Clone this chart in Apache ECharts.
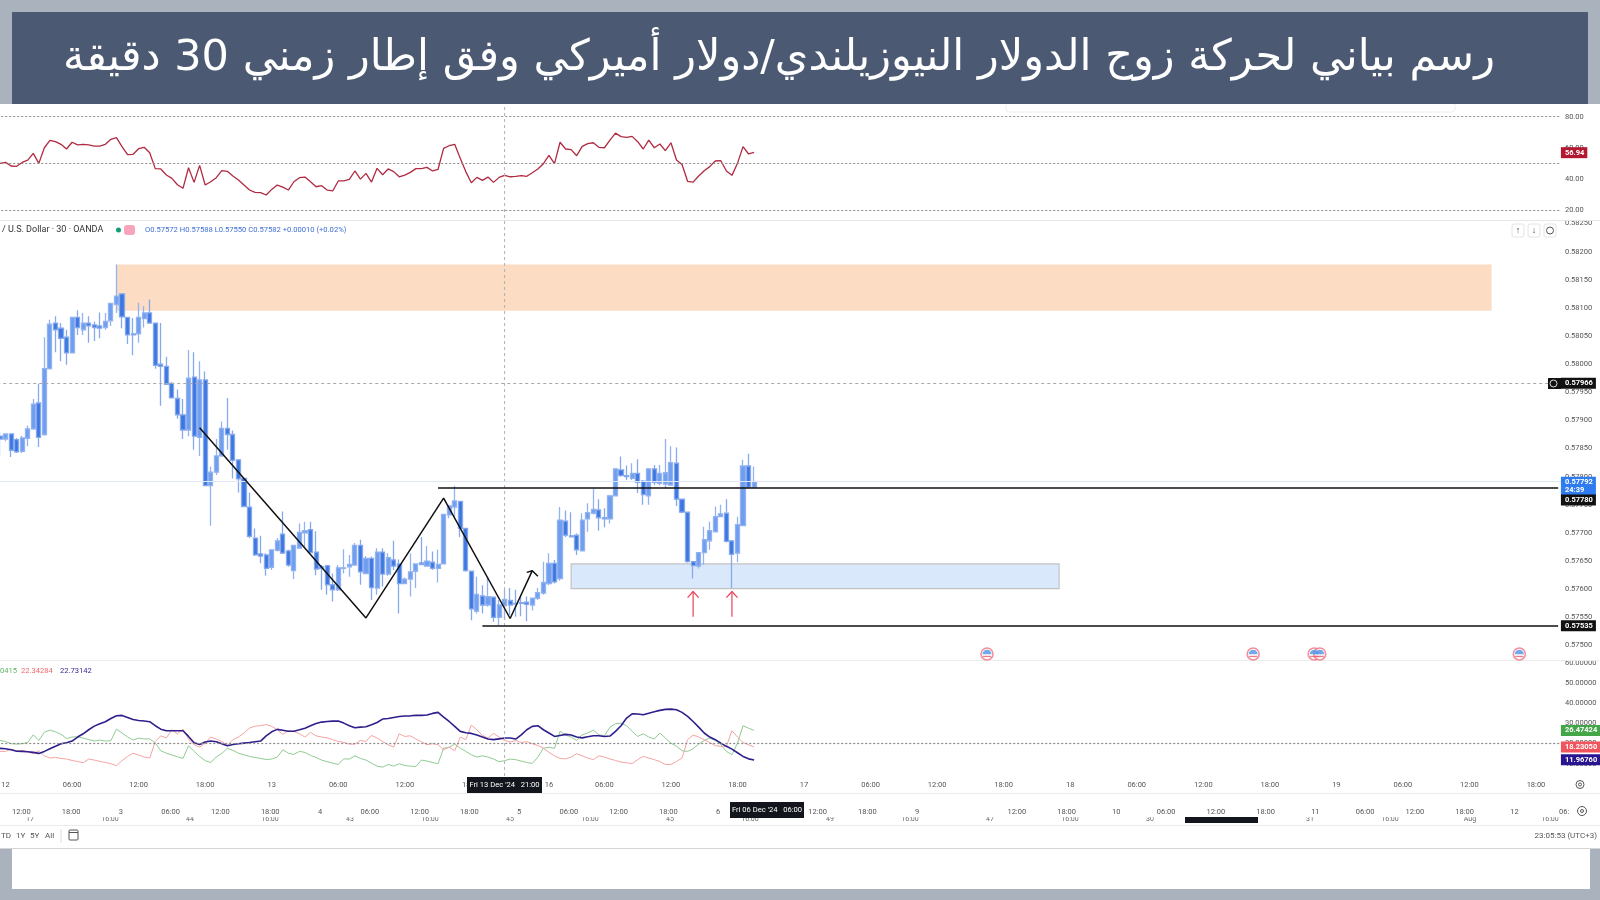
<!DOCTYPE html>
<html>
<head>
<meta charset="utf-8">
<style>
html,body{margin:0;padding:0;background:#fff;}
#chart{width:1600px;height:900px;}
</style>
<script src="https://cdn.jsdelivr.net/npm/echarts@6/dist/echarts.min.js"></script>
</head>
<body>
<div id="chart"></div>
<script>
// candles, in bar order
const openPrice = [0.57872,0.57867,0.57876,0.57866,0.57845,0.57868,0.57885,0.57931,0.57875,0.57992,0.58073,0.58064,0.58048,0.58020,0.58083,0.58061,0.58073,0.58070,0.58068,0.58065,0.58077,0.58106,0.58125,0.58083,0.58054,0.58054,0.58081,0.58091,0.58073,0.58000,0.57996,0.57966,0.57939,0.57910,0.57883,0.57977,0.57870,0.57972,0.57784,0.57808,0.57837,0.57886,0.57875,0.57830,0.57797,0.57746,0.57691,0.57663,0.57661,0.57639,0.57669,0.57698,0.57668,0.57633,0.57673,0.57700,0.57706,0.57666,0.57640,0.57642,0.57608,0.57599,0.57637,0.57640,0.57643,0.57678,0.57628,0.57655,0.57602,0.57666,0.57627,0.57652,0.57645,0.57610,0.57618,0.57632,0.57647,0.57641,0.57648,0.57637,0.57645,0.57732,0.57746,0.57756,0.57708,0.57632,0.57561,0.57588,0.57572,0.57586,0.57550,0.57571,0.57580,0.57575,0.57576,0.57577,0.57572,0.57584,0.57593,0.57610,0.57646,0.57619,0.57721,0.57695,0.57696,0.57668,0.57725,0.57735,0.57741,0.57727,0.57725,0.57766,0.57812,0.57802,0.57797,0.57806,0.57792,0.57766,0.57814,0.57788,0.57787,0.57785,0.57824,0.57760,0.57737,0.57649,0.57641,0.57665,0.57686,0.57702,0.57729,0.57735,0.57686,0.57664,0.57713,0.57819,0.57781];
const closePrice = [0.57867,0.57876,0.57847,0.57844,0.57869,0.57885,0.57929,0.57870,0.57992,0.58071,0.58061,0.58046,0.58020,0.58083,0.58065,0.58073,0.58068,0.58065,0.58064,0.58076,0.58108,0.58121,0.58084,0.58052,0.58052,0.58083,0.58091,0.58073,0.57998,0.57996,0.57964,0.57940,0.57910,0.57883,0.57975,0.57872,0.57972,0.57784,0.57808,0.57837,0.57886,0.57875,0.57829,0.57796,0.57747,0.57694,0.57661,0.57659,0.57637,0.57670,0.57686,0.57664,0.57643,0.57678,0.57701,0.57704,0.57665,0.57636,0.57637,0.57608,0.57599,0.57638,0.57638,0.57644,0.57678,0.57631,0.57655,0.57603,0.57666,0.57627,0.57656,0.57641,0.57610,0.57618,0.57631,0.57645,0.57644,0.57650,0.57637,0.57644,0.57733,0.57748,0.57757,0.57708,0.57633,0.57565,0.57591,0.57572,0.57587,0.57550,0.57572,0.57582,0.57572,0.57574,0.57575,0.57573,0.57584,0.57594,0.57612,0.57646,0.57613,0.57723,0.57696,0.57693,0.57670,0.57723,0.57736,0.57742,0.57727,0.57725,0.57766,0.57814,0.57802,0.57800,0.57806,0.57790,0.57768,0.57814,0.57790,0.57806,0.57807,0.57825,0.57760,0.57737,0.57649,0.57642,0.57665,0.57688,0.57704,0.57729,0.57734,0.57685,0.57662,0.57715,0.57819,0.57781,0.57791];
const lowPrice = [0.57836,0.57863,0.57835,0.57842,0.57842,0.57854,0.57883,0.57853,0.57873,0.57990,0.58021,0.58005,0.57999,0.58019,0.58052,0.58052,0.58038,0.58041,0.58046,0.58061,0.58068,0.58091,0.58064,0.58036,0.58016,0.58038,0.58065,0.58072,0.57992,0.57926,0.57963,0.57939,0.57903,0.57867,0.57872,0.57848,0.57837,0.57784,0.57713,0.57803,0.57835,0.57848,0.57797,0.57772,0.57746,0.57691,0.57659,0.57646,0.57624,0.57634,0.57667,0.57664,0.57640,0.57618,0.57672,0.57673,0.57664,0.57625,0.57599,0.57590,0.57578,0.57597,0.57628,0.57622,0.57642,0.57608,0.57627,0.57581,0.57590,0.57605,0.57624,0.57634,0.57557,0.57609,0.57587,0.57602,0.57643,0.57640,0.57634,0.57612,0.57645,0.57726,0.57729,0.57693,0.57631,0.57545,0.57557,0.57557,0.57569,0.57542,0.57536,0.57546,0.57554,0.57551,0.57552,0.57543,0.57562,0.57581,0.57590,0.57607,0.57610,0.57615,0.57693,0.57692,0.57661,0.57667,0.57702,0.57733,0.57704,0.57710,0.57717,0.57766,0.57800,0.57794,0.57794,0.57771,0.57750,0.57750,0.57785,0.57785,0.57779,0.57784,0.57748,0.57735,0.57647,0.57619,0.57637,0.57643,0.57670,0.57701,0.57728,0.57683,0.57602,0.57648,0.57713,0.57779,0.57779];
const highPrice = [0.57880,0.57877,0.57877,0.57869,0.57873,0.57891,0.57938,0.57965,0.58048,0.58079,0.58085,0.58073,0.58061,0.58083,0.58096,0.58091,0.58085,0.58076,0.58092,0.58091,0.58109,0.58177,0.58125,0.58083,0.58082,0.58109,0.58103,0.58115,0.58073,0.58073,0.58013,0.57968,0.57955,0.57938,0.58025,0.58021,0.58005,0.57987,0.57818,0.57867,0.57898,0.57940,0.57882,0.57830,0.57797,0.57772,0.57708,0.57695,0.57664,0.57671,0.57691,0.57738,0.57670,0.57679,0.57717,0.57720,0.57720,0.57703,0.57643,0.57643,0.57628,0.57643,0.57671,0.57661,0.57682,0.57688,0.57659,0.57658,0.57673,0.57673,0.57664,0.57686,0.57653,0.57621,0.57664,0.57646,0.57693,0.57677,0.57667,0.57670,0.57733,0.57750,0.57784,0.57756,0.57708,0.57632,0.57622,0.57607,0.57622,0.57587,0.57581,0.57599,0.57602,0.57599,0.57587,0.57587,0.57584,0.57602,0.57649,0.57664,0.57652,0.57746,0.57740,0.57737,0.57699,0.57735,0.57753,0.57778,0.57760,0.57744,0.57768,0.57814,0.57836,0.57820,0.57824,0.57831,0.57794,0.57815,0.57821,0.57821,0.57867,0.57854,0.57852,0.57760,0.57737,0.57649,0.57665,0.57711,0.57720,0.57747,0.57750,0.57760,0.57686,0.57729,0.57830,0.57841,0.57818];

// indicators
const rsiValues = [50.1,50.7,48.4,48.2,50.7,52.2,56.5,50.1,60.1,64.8,64.0,62.3,59.3,63.6,61.9,62.3,61.9,61.2,61.2,62.3,65.5,66.6,60.8,55.7,55.9,59.5,60.4,56.9,46.7,46.5,42.6,40.5,36.4,34.1,47.3,37.9,48.8,36.2,38.3,40.9,45.4,45.0,42.0,39.4,36.2,33.0,31.5,31.3,29.8,33.4,36.2,34.9,33.0,38.3,40.9,41.3,38.3,35.1,35.8,33.0,32.4,38.8,38.8,39.8,45.2,40.0,43.7,38.1,46.9,42.8,46.5,44.8,41.5,42.6,44.3,46.7,46.7,47.5,45.2,46.3,59.7,61.4,62.3,53.3,44.8,37.7,41.1,39.2,41.3,37.9,41.1,42.4,41.5,41.8,42.2,41.8,44.1,46.5,49.9,55.2,49.9,63.6,59.3,58.9,55.0,61.0,62.7,63.3,60.4,60.1,65.0,69.5,67.2,66.8,67.4,64.0,59.3,65.0,60.1,62.5,58.2,63.3,52.2,49.4,38.6,38.1,42.0,45.4,48.0,51.6,51.8,45.2,42.4,50.1,60.8,56.1,57.1];
const adxValues = [17.6,17.4,16.9,16.2,16.1,15.9,15.6,15.1,16.1,17.4,18.6,19.9,20.4,21.2,23.2,24.8,26.8,28.6,29.8,30.8,32.4,33.7,33.9,32.9,31.9,31.4,31.1,30.8,28.8,27.1,26.3,26.3,26.3,26.3,23.5,20.4,19.5,20.7,21.2,20.9,19.9,18.9,19.5,19.9,20.2,20.5,20.9,21.2,23.8,25.8,27.0,26.6,26.1,26.1,26.8,27.6,28.8,29.9,30.6,30.9,31.1,31.1,30.1,28.8,27.8,28.1,28.3,29.3,30.4,32.1,32.4,32.9,33.4,33.6,33.7,33.9,33.9,34.1,34.9,35.4,33.1,30.9,28.5,26.0,25.3,25.0,24.2,23.2,22.2,21.9,22.3,22.7,22.7,22.2,24.3,26.8,28.5,28.8,26.8,25.2,23.5,24.0,24.5,24.2,23.2,22.8,23.3,23.8,23.8,23.5,23.7,26.0,28.8,32.6,34.7,34.6,34.2,35.0,35.7,36.4,36.9,37.0,36.7,35.4,33.4,30.9,28.1,25.2,23.2,21.9,20.2,18.6,17.2,15.4,13.6,12.4,11.8];
const diPlusValues = [21.5,21.0,19.9,19.7,19.9,20.5,24.3,21.5,25.6,26.6,25.8,24.5,22.5,23.2,23.3,22.7,21.9,21.2,21.7,21.2,21.4,27.1,25.2,23.3,21.7,22.7,22.2,22.3,20.2,16.4,15.2,14.3,13.4,12.6,18.9,16.1,13.6,11.5,10.6,13.3,15.1,17.6,16.6,15.2,14.4,13.6,13.1,12.6,12.1,12.3,13.3,16.9,15.2,14.6,16.1,15.6,14.1,13.1,11.8,11.0,10.3,9.6,12.4,12.3,13.9,12.6,11.8,10.3,8.8,8.3,9.6,8.8,10.0,9.1,8.8,8.6,11.8,11.3,10.6,10.0,17.7,18.1,19.7,17.7,16.1,14.4,13.3,13.9,13.3,12.3,11.0,11.5,12.3,12.0,11.3,10.6,10.1,13.3,17.7,18.1,17.6,26.1,24.2,23.2,21.5,24.3,25.2,26.6,24.3,23.8,28.1,29.8,30.1,28.8,26.0,23.5,24.8,23.2,22.2,25.2,22.7,20.2,18.6,16.4,16.1,17.4,19.7,21.5,22.7,21.5,19.4,16.1,14.4,20.2,28.8,27.6,26.47];
const diMinusValues = [16.1,16.1,17.2,16.4,16.6,15.9,14.9,16.4,13.9,12.8,13.1,12.6,12.3,11.6,11.1,10.5,12.3,11.8,11.1,10.6,10.0,9.0,11.5,13.6,15.2,14.3,13.3,12.8,21.0,23.8,22.7,26.8,24.8,27.1,22.2,19.4,18.2,20.2,23.2,22.2,21.0,19.0,21.9,23.2,25.2,27.6,28.6,28.8,29.4,28.5,26.8,24.5,26.3,26.0,24.8,23.2,25.5,23.8,23.2,22.8,21.9,21.0,20.5,19.7,19.7,21.5,21.0,24.0,22.7,21.0,19.4,18.2,24.8,23.5,23.8,22.2,20.9,19.4,19.9,19.4,16.9,18.2,16.4,23.2,21.9,29.1,26.8,24.0,22.7,25.0,23.2,21.5,20.7,21.5,20.5,20.9,19.9,19.0,17.7,15.6,13.9,12.6,12.4,13.3,14.9,13.9,12.8,12.0,13.9,13.3,12.3,11.6,10.8,10.5,10.0,12.0,13.6,12.8,12.0,11.1,9.6,9.6,11.1,12.8,21.9,24.2,23.2,21.9,20.5,18.9,18.6,18.6,26.3,23.2,20.5,19.4,18.23];

// time scale: bar slot -> label, first row
const timeSlots = [1,13,25,37,49,61,73,85,99,109,121,133,145,157,169,181,193,205,217,229,241,253,265,277];
const timeLabels = ['12','06:00','12:00','18:00','13','06:00','12:00','18:00','16','06:00','12:00','18:00','17','06:00','12:00','18:00','18','06:00','12:00','18:00','19','06:00','12:00','18:00'];
// second time row, crossfaded from the next chart
const fadedLabels = ['12:00','18:00','3','06:00','12:00','18:00','4','06:00','12:00','18:00','5','06:00','12:00','18:00','6','','12:00','18:00','9','','12:00','18:00','10','06:00','12:00','18:00','11','06:00','12:00','18:00','12','06:'];
// third row, only its lower half shows
const ghostLabels = ['17','16:00','44','16:00','43','16:00','45','16:00','45','16:00','49','16:00','47','16:00','30','','31','16:00','Aug','16:00'];

const rsiTicks = [20, 40, 60, 80];
const rsiGuides = [80, 50, 20];
const lastRsi = 56.94;
const adxGuide = 20;
const lastPlus = 26.47424, lastMinus = 18.2305, lastAdx = 11.9676;
const lastPrice = 0.57792, pivotPrice = 0.57966, upperLine = 0.57780, lowerLine = 0.57535;

// drawings on the price panel, [slot, price]
const zigzag = [[36,0.57887],[66,0.57549],[80,0.57762],[92,0.57548],[96,0.57633]];
const zigzagHead = [[95,0.57630],[96,0.57633],[97,0.57623]];
const redArrowA = [[125,0.57551],[125,0.57596]];
const redHeadA = [[124,0.57585],[125,0.57596],[126,0.57585]];
const redArrowB = [[132,0.57551],[132,0.57596]];
const redHeadB = [[131,0.57585],[132,0.57596],[133,0.57585]];
const newsSlots = [178,226,237,238,274];
const newsPrice = 0.57485;

const slotCount = 282;
const slotWidth = 5.545;
const gridLeft = -2.77;
const gridWidth = slotCount * slotWidth;
const cursorSlot = 91;

const FONT = 'Roboto';
const slots = [];
for (let i = 0; i < slotCount; i++) slots.push(String(i));
const timeRow = slots.map((s, i) => {
    const k = timeSlots.indexOf(i);
    return k >= 0 ? timeLabels[k] : '';
});
const candles = openPrice.map((o, i) => [o, closePrice[i], lowPrice[i], highPrice[i]]);

function panel(top, height, left, width) {
    return { left: left === undefined ? gridLeft : left, width: width || gridWidth, top: top, height: height, outerBoundsMode: 'none' };
}
function hiddenX(gridIndex) {
    return {
        type: 'category', gridIndex: gridIndex, data: slots, boundaryGap: true,
        axisLine: { show: false }, axisTick: { show: false }, axisLabel: { show: false }, splitLine: { show: false }
    };
}
function labelX(gridIndex, labels, color, size) {
    return {
        type: 'category', gridIndex: gridIndex, data: labels,
        axisLine: { show: false }, axisTick: { show: false },
        axisLabel: { interval: 0, color: color, fontSize: size, fontFamily: FONT, margin: 2 }
    };
}
function rightY(gridIndex, min, max, interval, digits, hideZero) {
    return {
        type: 'value', gridIndex: gridIndex, position: 'right', min: min, max: max, interval: interval, scale: true,
        axisLine: { show: false }, axisTick: { show: false }, splitLine: { show: false },
        axisLabel: {
            show: true, color: '#555', fontSize: 7.5, fontFamily: FONT, margin: 4,
            showMinLabel: true, showMaxLabel: true,
            formatter: v => (hideZero && v === 0) ? '' : v.toFixed(digits)
        }
    };
}
function tag(value, text, bg, offset) {
    return {
        yAxis: value,
        lineStyle: { width: 0, color: 'transparent' },
        label: {
            show: true, position: 'end', distance: 0, formatter: text, offset: offset || [0, 0],
            color: '#fff', backgroundColor: bg, fontSize: 7.5, fontFamily: FONT, fontWeight: 'bold',
            padding: [2, 3, 1, 4], lineHeight: 8, align: 'left', verticalAlign: 'middle'
        }
    };
}
function drawing(name, points, color, width) {
    return {
        name: name, type: 'line', xAxisIndex: 1, yAxisIndex: 1, data: points, z: 6,
        showSymbol: false, symbol: 'none', silent: true, lineStyle: { color: color, width: width }
    };
}
function rect(x, y, w, h, fill, z, stroke, r) {
    return { type: 'rect', shape: { x: x, y: y, width: w, height: h, r: r || 0 }, style: { fill: fill, stroke: stroke || null }, z: z || 0, silent: true };
}
function hline(y, x1, x2, color) {
    return { type: 'line', shape: { x1: x1, y1: y, x2: x2, y2: y }, style: { stroke: color, lineWidth: 1 }, z: 1, silent: true };
}
function label(x, y, text, color, size, align, weight) {
    return {
        type: 'text', x: x, y: y, z: 60, silent: true,
        style: { text: text, fill: color, font: (weight || 'normal') + ' ' + size + 'px ' + FONT, align: align || 'left', verticalAlign: 'middle' }
    };
}
function ring(x, y, r, color) {
    return { type: 'circle', shape: { cx: x, cy: y, r: r }, style: { fill: 'none', stroke: color, lineWidth: 1 }, z: 60, silent: true };
}

const chart = echarts.init(document.getElementById('chart'));
chart.setOption({
    animation: false,
    backgroundColor: '#fff',
    title: {
        text: 'رسم بياني لحركة زوج الدولار النيوزيلندي/دولار أميركي وفق إطار زمني 30 دقيقة',
        left: 774, top: 32, textAlign: 'center',
        textStyle: { color: '#fff', fontFamily: 'DejaVu Sans', fontWeight: 'normal', fontSize: 43 }
    },
    grid: [
        panel(116.7, 93.6),
        panel(223.5, 422),
        panel(662.7, 121.2),
        panel(104, 672),
        panel(778, 1),
        panel(805, 1, -3.5, 1592.6),
        panel(812.5, 1, -10, 1600)
    ],
    xAxis: [
        hiddenX(0), hiddenX(1), hiddenX(2), hiddenX(3),
        labelX(4, timeRow, '#555', 7.5),
        labelX(5, fadedLabels, '#555', 7.5),
        labelX(6, ghostLabels, '#666', 7)
    ],
    yAxis: [
        rightY(0, rsiTicks[0], rsiTicks[3], 20, 2),
        rightY(1, 0.575, 0.5825, 0.0005, 5),
        rightY(2, 0, 60, 10, 5, true),
        { type: 'value', gridIndex: 3, min: 0, max: 1, show: false },
        { type: 'value', gridIndex: 4, show: false },
        { type: 'value', gridIndex: 5, show: false },
        { type: 'value', gridIndex: 6, show: false }
    ],
    series: [
        {
            name: 'RSI', type: 'line', xAxisIndex: 0, yAxisIndex: 0, data: rsiValues,
            showSymbol: false, symbol: 'none', silent: true, lineStyle: { color: '#b02a41', width: 1.3 },
            markLine: {
                silent: true, symbol: 'none', animation: false, precision: 5,
                lineStyle: { color: '#888', type: [2, 2], width: 1.2 }, label: { show: false },
                data: rsiGuides.map(v => ({ yAxis: v })).concat([tag(lastRsi, lastRsi.toFixed(2), '#b2182f')])
            }
        },
        {
            name: 'price', type: 'candlestick', xAxisIndex: 1, yAxisIndex: 1, data: candles, barWidth: 4.6, silent: true,
            itemStyle: { color: '#6f9df0', color0: '#3c76e2', borderColor: '#93b3f0', borderColor0: '#86a9ec', borderWidth: 1.3 },
            markArea: {
                silent: true, animation: false,
                data: [
                    [{ coord: [21, 0.58177], itemStyle: { color: '#fcdcc2', borderWidth: 0 } }, { coord: [269, 0.58095] }],
                    [{ coord: [103, 0.57645], itemStyle: { color: '#dae8fb', borderColor: '#c2c2c2', borderWidth: 1.2 } }, { coord: [191, 0.57601] }]
                ]
            },
            markLine: {
                silent: true, symbol: 'none', animation: false, precision: 5, label: { show: false },
                data: [
                    { yAxis: lastPrice, lineStyle: { color: '#dfe6f4', width: 1, type: 'solid' } },
                    { yAxis: pivotPrice, lineStyle: { color: '#a8a8a8', width: 1, type: [3, 3] } },
                    [{ coord: [79, upperLine], lineStyle: { color: '#111', width: 1.6, type: 'solid' } }, { coord: [281, upperLine] }],
                    [{ coord: [87, lowerLine], lineStyle: { color: '#111', width: 1.6, type: 'solid' } }, { coord: [281, lowerLine] }],
                    tag(pivotPrice, pivotPrice.toFixed(5), '#111'),
                    tag(lastPrice, lastPrice.toFixed(5) + '\n24:39', '#2e7cf0', [0, 5]),
                    tag(upperLine, upperLine.toFixed(5), '#111', [0, 12]),
                    tag(lowerLine, lowerLine.toFixed(5), '#111')
                ]
            }
        },
        drawing('zigzag', zigzag, '#111', 1.5),
        drawing('zigzagHead', zigzagHead, '#111', 1.5),
        drawing('redArrowA', redArrowA, '#ea4258', 1.2),
        drawing('redHeadA', redHeadA, '#ea4258', 1.2),
        drawing('redArrowB', redArrowB, '#ea4258', 1.2),
        drawing('redHeadB', redHeadB, '#ea4258', 1.2),
        {
            name: 'newsRing', type: 'scatter', xAxisIndex: 1, yAxisIndex: 1, clip: false, silent: true, z: 7,
            data: newsSlots.map(s => [s, newsPrice]), symbolSize: 12,
            itemStyle: { color: '#fff', borderColor: '#ee7482', borderWidth: 1.6 }
        },
        {
            name: 'newsCap', type: 'scatter', xAxisIndex: 1, yAxisIndex: 1, clip: false, silent: true, z: 8,
            data: newsSlots.map(s => [s, newsPrice]), symbol: 'path://M0 10A10 10 0 0 1 20 10H0Z',
            symbolSize: [9, 4.5], symbolOffset: [0, -2], itemStyle: { color: '#4f93e6' }
        },
        {
            name: 'newsStripe', type: 'scatter', xAxisIndex: 1, yAxisIndex: 1, clip: false, silent: true, z: 8,
            data: newsSlots.map(s => [s, newsPrice]), symbol: 'rect',
            symbolSize: [8, 1.3], symbolOffset: [0, 2.5], itemStyle: { color: '#e65a6b' }
        },
        {
            name: '+DI', type: 'line', xAxisIndex: 2, yAxisIndex: 2, data: diPlusValues,
            showSymbol: false, symbol: 'none', silent: true, lineStyle: { color: '#8fcb93', width: 1 },
            markLine: {
                silent: true, symbol: 'none', animation: false, precision: 5, label: { show: false },
                lineStyle: { color: '#888', type: [2, 2], width: 1.2 },
                data: [{ yAxis: adxGuide }, tag(lastPlus, lastPlus.toFixed(5), '#43a648')]
            }
        },
        {
            name: '-DI', type: 'line', xAxisIndex: 2, yAxisIndex: 2, data: diMinusValues,
            showSymbol: false, symbol: 'none', silent: true, lineStyle: { color: '#f5a3a3', width: 1 },
            markLine: {
                silent: true, symbol: 'none', animation: false, precision: 5, label: { show: false },
                data: [tag(lastMinus, lastMinus.toFixed(5), '#f0545c')]
            }
        },
        {
            name: 'ADX', type: 'line', xAxisIndex: 2, yAxisIndex: 2, data: adxValues,
            showSymbol: false, symbol: 'none', silent: true, lineStyle: { color: '#2e1f8c', width: 1.6 },
            markLine: {
                silent: true, symbol: 'none', animation: false, precision: 5, label: { show: false },
                data: [tag(lastAdx, lastAdx.toFixed(5), '#2a1590')]
            }
        },
        {
            name: 'cursor', type: 'line', xAxisIndex: 3, yAxisIndex: 3, data: [[cursorSlot, 0], [cursorSlot, 1]], z: 3,
            showSymbol: false, symbol: 'none', silent: true, lineStyle: { color: '#b0b0b0', width: 1, type: [3, 3] }
        }
    ],
    graphic: [
        // page frame
        rect(0, 0, 1600, 12, '#aab2bd'),
        rect(0, 0, 12, 104, '#aab2bd'),
        rect(1588, 0, 12, 104, '#aab2bd'),
        rect(1006, 100, 449, 12, '#fff', 0, '#eeeeee', 3),
        rect(12, 12, 1576, 92, '#4b5a72'),
        rect(0, 849, 12, 51, '#aab2bd'),
        rect(1590, 849, 10, 51, '#aab2bd'),
        rect(0, 889, 1600, 11, '#aab2bd'),
        // panel separators
        hline(220.5, 0, 1600, '#e6e6e6'),
        hline(660.5, 0, 1600, '#ececec'),
        hline(793.5, 0, 1600, '#ececec'),
        hline(825.5, 0, 1600, '#ececec'),
        hline(848.5, 0, 1600, '#d5d5d5'),
        // hides the top of the third time row
        rect(0, 815, 1600, 2.2, '#fff', 50),
        // legend of price panel
        label(2, 230, '/ U.S. Dollar · 30 · OANDA', '#333', 9),
        { type: 'circle', shape: { cx: 118.5, cy: 230, r: 2.5 }, style: { fill: '#0f9d76' }, z: 60, silent: true },
        rect(124, 225, 11, 10, '#f6a5ba', 60, null, 3),
        label(145, 230, 'O0.57572 H0.57588 L0.57550 C0.57582 +0.00010 (+0.02%)', '#3f6fd8', 7.6),
        // legend of ADX panel
        label(0, 671, '0415', '#5cb562', 7.6),
        label(21, 671, '22.34284', '#f0686e', 7.6),
        label(60, 671, '22.73142', '#3a2b9a', 7.6),
        // price panel buttons
        rect(1512, 224, 12, 13, '#fff', 60, '#e4e4e4', 2),
        label(1518, 230.5, '↑', '#444', 9, 'center'),
        rect(1528, 224, 12, 13, '#fff', 60, '#e4e4e4', 2),
        label(1534, 230.5, '↓', '#444', 9, 'center'),
        rect(1544, 224, 12, 13, '#fff', 60, '#e4e4e4', 2),
        ring(1550, 230.5, 3.5, '#555'),
        // icon next to the pivot tag
        rect(1548, 378, 13, 11, '#111', 60),
        ring(1553.5, 383.5, 3.5, '#ddd'),
        // crosshair time boxes
        rect(467, 777, 75, 16, '#12151b', 60),
        label(504.5, 785, "Fri 13 Dec '24   21:00", '#fff', 7.6, 'center'),
        rect(730, 802, 74, 16, '#12151b', 60),
        label(767, 810, "Fri 06 Dec '24   06:00", '#fff', 7.6, 'center'),
        rect(1185, 817, 73, 6, '#12151b', 60),
        // gear buttons
        ring(1580, 784.5, 4, '#555'),
        ring(1580, 784.5, 1.5, '#555'),
        ring(1582, 811, 4.5, '#555'),
        ring(1582, 811, 1.5, '#555'),
        // range toolbar
        label(1, 836, 'TD', '#555', 8),
        label(16, 836, '1Y', '#555', 8),
        label(30, 836, '5Y', '#555', 8),
        label(45, 836, 'All', '#555', 8),
        { type: 'line', shape: { x1: 61, y1: 829, x2: 61, y2: 843 }, style: { stroke: '#ddd', lineWidth: 1 }, z: 60, silent: true },
        rect(69, 830, 9, 10, 'none', 60, '#555', 1),
        hline(832.5, 69, 78, '#555'),
        label(1597, 836, '23:05:53 (UTC+3)', '#555', 8, 'right')
    ]
});
window.addEventListener('resize', function() { chart.resize(); }, false);
</script>
</body>
</html>
